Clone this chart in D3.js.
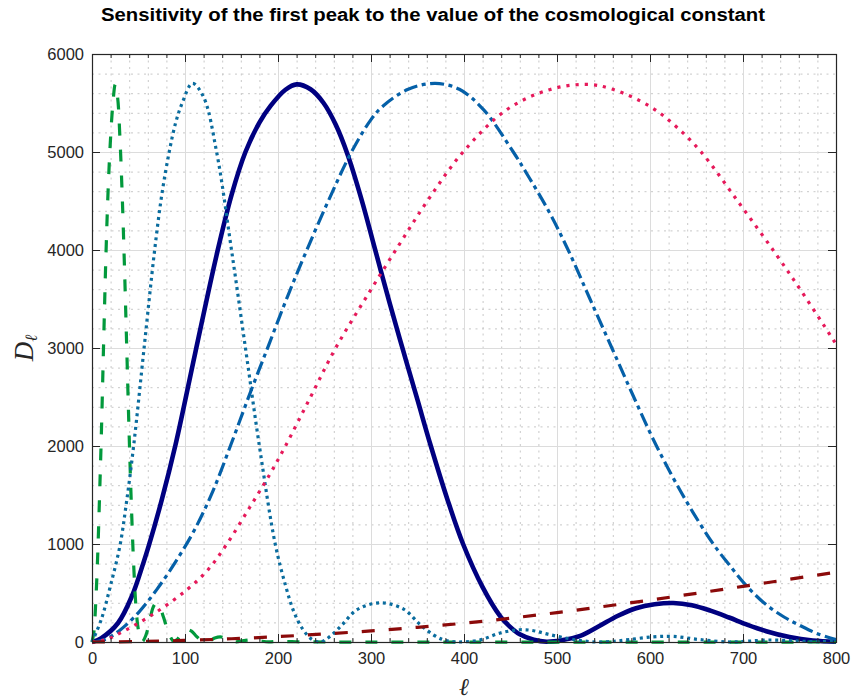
<!DOCTYPE html>
<html>
<head>
<meta charset="utf-8">
<script src="https://cdn.jsdelivr.net/npm/d3@7"></script>
<style>
  html, body { margin: 0; padding: 0; background: #ffffff; }
  svg { display: block; }
</style>
</head>
<body>
<svg id="chart" width="852" height="700"></svg>
<script>
// ---------------- data ----------------
const titleText = "Sensitivity of the first peak to the value of the cosmological constant";
const xTicks = [0, 100, 200, 300, 400, 500, 600, 700, 800];
const yTicks = [0, 1000, 2000, 3000, 4000, 5000, 6000];

// [ell, D_ell] pairs
const greenDashed = [[0,0],[2,100],[4,400],[6,850],[8,1450],[10,2100],[12.5,3050],[15,3950],[17.5,4650],[20,5150],[22.5,5500],[25,5690],[27.5,5560],[30,5150],[32.5,4550],[35,3800],[37.5,2950],[40,2100],[42.5,1350],[45,750],[47.5,330],[50,120],[54,5],[58,70],[62,220],[66,360],[69,395],[73,350],[77,250],[81,130],[85,40],[88,5],[92,30],[97,90],[102,125],[107,110],[112,60],[117,18],[121,3],[126,10],[132,40],[138,52],[144,38],[150,12],[155,2],[163,14],[172,22],[181,10],[190,1],[200,6],[215,3],[250,0],[800,0]];
const tealDotted = [[0,0],[10,230],[20,580],[30,980],[37,1420],[45,2020],[56,3000],[67,3970],[75,4560],[83,5000],[90,5300],[97,5500],[108,5700],[120,5560],[134,5000],[150,4000],[165,3000],[180,2000],[197,1000],[208,580],[217,310],[226,140],[236,30],[245,0],[256,57],[269,176],[285,330],[310,400],[335,335],[353,176],[367,74],[377,25],[386,5],[395,0],[417,20],[439,92],[460,125],[475,115],[490,80],[507,45],[525,15],[542,0],[560,6],[578,25],[603,52],[625,57],[653,25],[685,0],[705,8],[725,20],[750,15],[775,3],[800,5]];
const navySolid = [[0,0],[10,40],[28,194],[43,470],[55,800],[61,980],[75,1450],[90,2020],[111,2950],[134,3950],[150,4560],[165,5000],[180,5300],[192,5470],[208,5635],[220,5690],[235,5640],[249,5500],[262,5280],[275,4970],[290,4510],[304,4020],[320,3460],[335,2960],[350,2470],[364,2010],[382,1460],[399,1000],[420,560],[439,262],[449,160],[460,78],[475,22],[489,3],[505,18],[525,62],[545,160],[565,265],[585,345],[605,385],[625,398],[645,375],[665,320],[685,250],[705,175],[725,110],[750,50],[775,15],[800,3]];
const blueDashDot = [[0,0],[15,30],[30,120],[50,300],[70,540],[90,820],[110,1140],[130,1540],[150,2030],[170,2540],[190,3030],[210,3520],[231,4000],[255,4520],[279,5000],[300,5330],[313,5470],[340,5640],[369,5700],[395,5640],[421,5432],[453,5000],[470,4740],[492,4380],[512,4000],[535,3510],[559,3000],[583,2490],[607,2000],[637,1470],[668,1000],[685,790],[704,570],[725,380],[745,250],[761,170],[780,85],[800,25]];
const pinkDotted = [[0,0],[15,25],[35,115],[70,310],[103,540],[125,740],[145,1000],[170,1380],[192,1724],[208,2000],[235,2500],[262,3000],[295,3520],[330,4050],[362,4520],[399,5000],[446,5432],[492,5636],[532,5690],[560,5640],[600,5465],[628,5260],[655,5000],[695,4490],[736,3950],[767,3520],[800,3040]];
const redDashed = [[0,0],[50,4],[100,16],[150,33],[200,55],[250,82],[300,113],[350,150],[400,192],[450,243],[500,300],[550,362],[600,428],[650,497],[700,568],[750,640],[800,712]];

// ---------------- drawing ----------------
const svg = d3.select("#chart");
const x = d3.scaleLinear().domain([0, 800]).range([92, 836]);
const y = d3.scaleLinear().domain([0, 6000]).range([642, 54]);
const fontSans = "'Liberation Sans', Arial, Helvetica, sans-serif";
const axisColor = "#262626";

svg.append("rect").attr("width", 852).attr("height", 700).attr("fill", "#ffffff");

// minor grid (dotted)
const minorX = d3.range(0, 801, 20).filter(v => v % 100 !== 0);
const minorY = d3.range(0, 6001, 200).filter(v => v % 1000 !== 0);
const grid = svg.append("g");
grid.selectAll("line.mx").data(minorX).join("line")
  .attr("x1", d => x(d) + 0.5).attr("x2", d => x(d) + 0.5)
  .attr("y1", y(6000)).attr("y2", y(0))
  .attr("stroke", "#c8c8c8").attr("stroke-width", 1).attr("stroke-dasharray", "2,4.5");
grid.selectAll("line.my").data(minorY).join("line")
  .attr("y1", d => y(d) + 0.5).attr("y2", d => y(d) + 0.5)
  .attr("x1", x(0)).attr("x2", x(800))
  .attr("stroke", "#c8c8c8").attr("stroke-width", 1).attr("stroke-dasharray", "2,4.5");
// major grid (solid)
grid.selectAll("line.gx").data(xTicks).join("line")
  .attr("x1", d => x(d) + 0.5).attr("x2", d => x(d) + 0.5)
  .attr("y1", y(6000)).attr("y2", y(0))
  .attr("stroke", "#dcdcdc").attr("stroke-width", 1);
grid.selectAll("line.gy").data(yTicks).join("line")
  .attr("y1", d => y(d) + 0.5).attr("y2", d => y(d) + 0.5)
  .attr("x1", x(0)).attr("x2", x(800))
  .attr("stroke", "#dcdcdc").attr("stroke-width", 1);

// series
const line = d3.line().x(d => x(d[0])).y(d => y(d[1])).curve(d3.curveCatmullRom.alpha(0.5));
const series = [
  { data: navySolid,   color: "#000080", width: 4.6, dash: null },
  { data: greenDashed, color: "#02993c", width: 3.2, dash: "12,14" },
  { data: tealDotted,  color: "#0a6c9e", width: 3.2, dash: "3,3.8" },
  { data: blueDashDot, color: "#0560a8", width: 3.2, dash: "14,4.5,4,4.5" },
  { data: pinkDotted,  color: "#e6195a", width: 3.2, dash: "3.2,6" },
  { data: redDashed,   color: "#8b0a0a", width: 3.2, dash: "13,14" }
];
const lines = svg.append("g");
series.forEach(s => {
  lines.append("path").datum(s.data)
    .attr("d", line)
    .attr("fill", "none")
    .attr("stroke", s.color)
    .attr("stroke-width", s.width)
    .attr("stroke-linejoin", "round")
    .attr("stroke-dasharray", s.dash);
});

// axes
function styleAxis(g, labels) {
  g.select(".domain").remove();
  g.selectAll(".tick line").attr("stroke", axisColor).attr("stroke-width", 1);
  if (labels) {
    g.selectAll(".tick text").attr("fill", axisColor)
      .style("font-family", fontSans).style("font-size", "16.5px");
  } else {
    g.selectAll(".tick text").remove();
  }
}
svg.append("g").attr("transform", `translate(0,${y(0)})`)
  .call(d3.axisBottom(x).tickValues(xTicks).tickFormat(d3.format("d")).tickSizeInner(-8).tickSizeOuter(0).tickPadding(10))
  .call(g => styleAxis(g, true));
svg.append("g").attr("transform", `translate(0,${y(0)})`)
  .call(d3.axisBottom(x).tickValues(minorX).tickSizeInner(-4).tickSizeOuter(0))
  .call(g => styleAxis(g, false));
svg.append("g").attr("transform", `translate(0,${y(6000)})`)
  .call(d3.axisTop(x).tickValues(xTicks).tickSizeInner(-8).tickSizeOuter(0))
  .call(g => styleAxis(g, false));
svg.append("g").attr("transform", `translate(0,${y(6000)})`)
  .call(d3.axisTop(x).tickValues(minorX).tickSizeInner(-4).tickSizeOuter(0))
  .call(g => styleAxis(g, false));
svg.append("g").attr("transform", `translate(${x(0)},0)`)
  .call(d3.axisLeft(y).tickValues(yTicks).tickFormat(d3.format("d")).tickSizeInner(-8).tickSizeOuter(0).tickPadding(8))
  .call(g => styleAxis(g, true));
svg.append("g").attr("transform", `translate(${x(800)},0)`)
  .call(d3.axisRight(y).tickValues(yTicks).tickSizeInner(-8).tickSizeOuter(0))
  .call(g => styleAxis(g, false));

// box
svg.append("rect")
  .attr("x", x(0) + 0.5).attr("y", y(6000) + 0.5)
  .attr("width", x(800) - x(0)).attr("height", y(0) - y(6000))
  .attr("fill", "none").attr("stroke", axisColor).attr("stroke-width", 1.2);

// title
svg.append("text")
  .attr("x", 433).attr("y", 21)
  .attr("text-anchor", "middle")
  .attr("textLength", 664).attr("lengthAdjust", "spacingAndGlyphs")
  .style("font-family", fontSans).style("font-weight", "bold").style("font-size", "18px")
  .attr("fill", "#000000")
  .text(titleText);

// x label
svg.append("text")
  .attr("x", 464).attr("y", 695)
  .attr("text-anchor", "middle")
  .style("font-family", "'DejaVu Serif', 'Liberation Serif', serif")
  .style("font-style", "italic").style("font-size", "24px")
  .attr("fill", axisColor)
  .text("ℓ");

// y label D_ℓ, rotated
const yl = svg.append("text")
  .attr("transform", "translate(33,348) rotate(-90)")
  .attr("text-anchor", "middle")
  .style("font-family", "'Liberation Serif', 'DejaVu Serif', serif")
  .style("font-style", "italic").style("font-size", "27px")
  .attr("fill", axisColor);
yl.append("tspan").text("D");
yl.append("tspan").attr("dy", 4).style("font-size", "17px")
  .style("font-family", "'DejaVu Serif', 'Liberation Serif', serif").text("ℓ");
</script>
</body>
</html>
